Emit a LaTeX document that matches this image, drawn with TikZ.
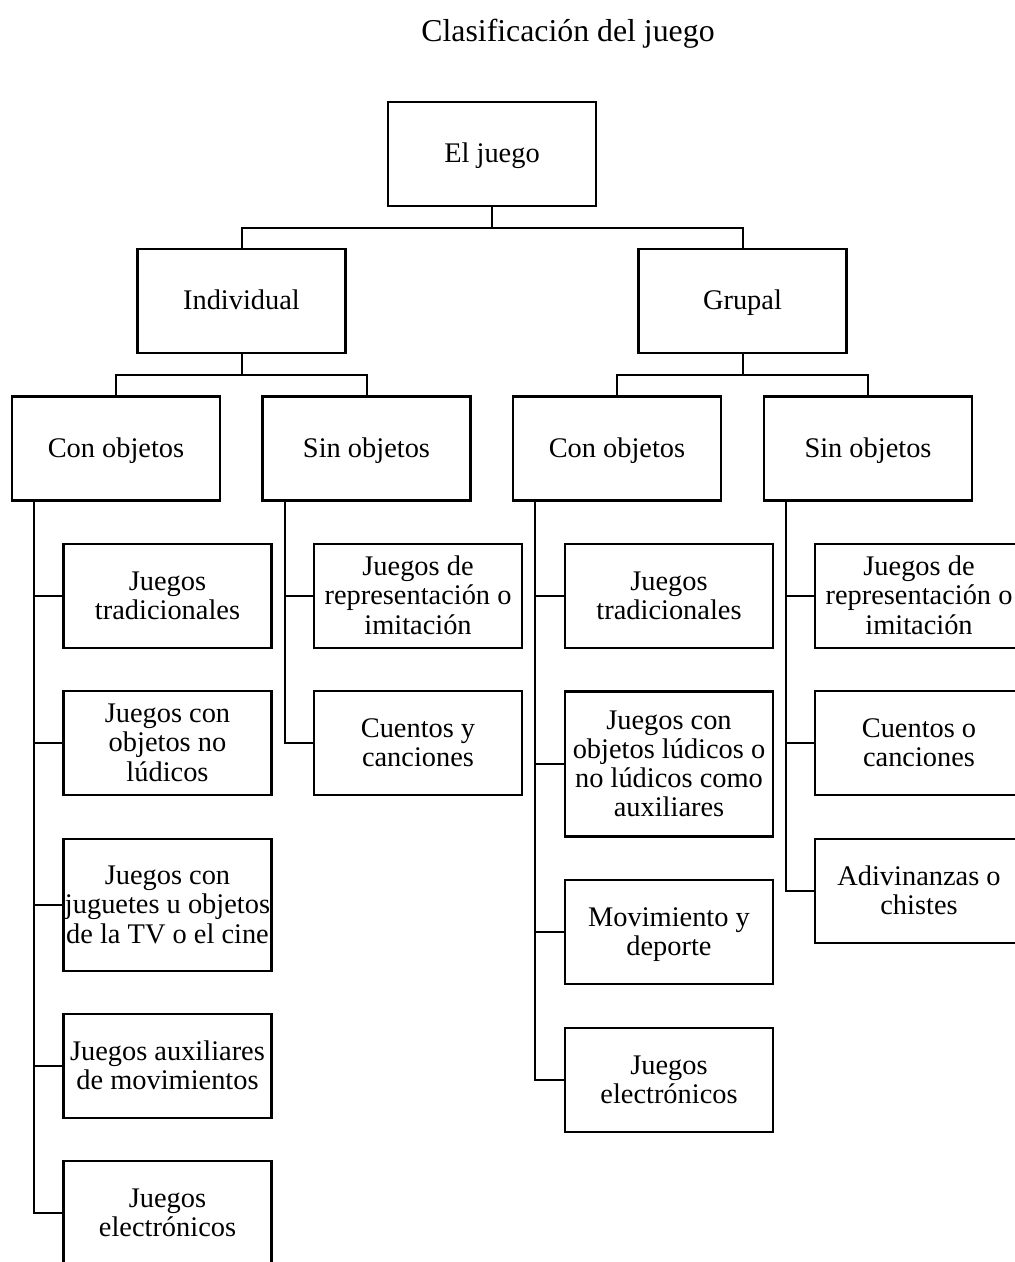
\documentclass[tikz,border=0pt]{standalone}
\usepackage{fontspec}
\setmainfont{Liberation Serif}
% invisible rules that give every box label the same height and depth
\newcommand\boxtopgap{\rule{0pt}{13.2pt}}
\newcommand\boxbotgap{\rule[-4.4pt]{0pt}{4.4pt}}
\begin{document}
\begin{tikzpicture}[
  x=0.5pt, y=-0.5pt,
  box/.style={draw, line width=1.1pt, minimum width=104pt, minimum height=52pt,
    text width=116pt, inner xsep=-6pt, inner ysep=0pt, outer sep=0pt,
    align=flush center,
    font=\fontsize{14.2}{14.6}\selectfont,
    execute at begin node=\boxtopgap, execute at end node=\boxbotgap},
  link/.style={line width=1pt},
  side/.style={xshift=11pt}
]
\useasboundingbox (0,0) rectangle (1015,1262);
\clip (0,0) rectangle (1015,1262);

% title
\node[anchor=base, font=\fontsize{15.9}{18}\selectfont] (title) at (568,42) {Clasificación del juego};

% root and first level
\node[box] (ej)  at (492,154) {El juego};
\node[box] (ind) at (241.5,301) {Individual};
\node[box] (grp) at (742.5,301) {Grupal};

% second level
\node[box] (co1) at (116,448.5) {Con objetos};
\node[box] (so1) at (366.5,448.5) {Sin objetos};
\node[box] (co2) at (617,448.5) {Con objetos};
\node[box] (so2) at (868,448.5) {Sin objetos};

% individual, with objects
\node[box] (a1) at (167.5,596) {Juegos\\tradicionales};
\node[box] (a2) at (167.5,743) {Juegos con\\objetos no\\lúdicos};
\node[box, minimum height=66pt] (a3) at (167.5,905) {Juegos con\\juguetes u objetos\\de la TV o el cine};
\node[box] (a4) at (167.5,1066) {Juegos auxiliares\\de movimientos};
\node[box] (a5) at (167.5,1213) {Juegos\\electrónicos};

% individual, without objects
\node[box] (b1) at (418,596) {Juegos de\\representación o\\imitación};
\node[box] (b2) at (418,743) {Cuentos y\\canciones};

% group, with objects
\node[box] (c1) at (669,596) {Juegos\\tradicionales};
\node[box, minimum height=72.5pt] (c2) at (669,764) {Juegos con\\objetos lúdicos o\\no lúdicos como\\auxiliares};
\node[box] (c3) at (669,932) {Movimiento y\\deporte};
\node[box] (c4) at (669,1080) {Juegos\\electrónicos};

% group, without objects
\node[box] (d1) at (919,596) {Juegos de\\representación o\\imitación};
\node[box] (d2) at (919,743) {Cuentos o\\canciones};
\node[box] (d3) at (919,891) {Adivinanzas o\\chistes};

% tree connectors
\draw[link] (ej.south) -- ++(0,22) -| (ind.north);
\draw[link] (ej.south) -- ++(0,22) -| (grp.north);
\draw[link] (ind.south) -- ++(0,22) -| (co1.north);
\draw[link] (ind.south) -- ++(0,22) -| (so1.north);
\draw[link] (grp.south) -- ++(0,22) -| (co2.north);
\draw[link] (grp.south) -- ++(0,22) -| (so2.north);

% side branches
\foreach \k in {a1,a2,a3,a4,a5}
  \draw[link] ([side]co1.south west) |- (\k.west);
\foreach \k in {b1,b2}
  \draw[link] ([side]so1.south west) |- (\k.west);
\foreach \k in {c1,c2,c3,c4}
  \draw[link] ([side]co2.south west) |- (\k.west);
\foreach \k in {d1,d2,d3}
  \draw[link] ([side]so2.south west) |- (\k.west);
\end{tikzpicture}
\end{document}
